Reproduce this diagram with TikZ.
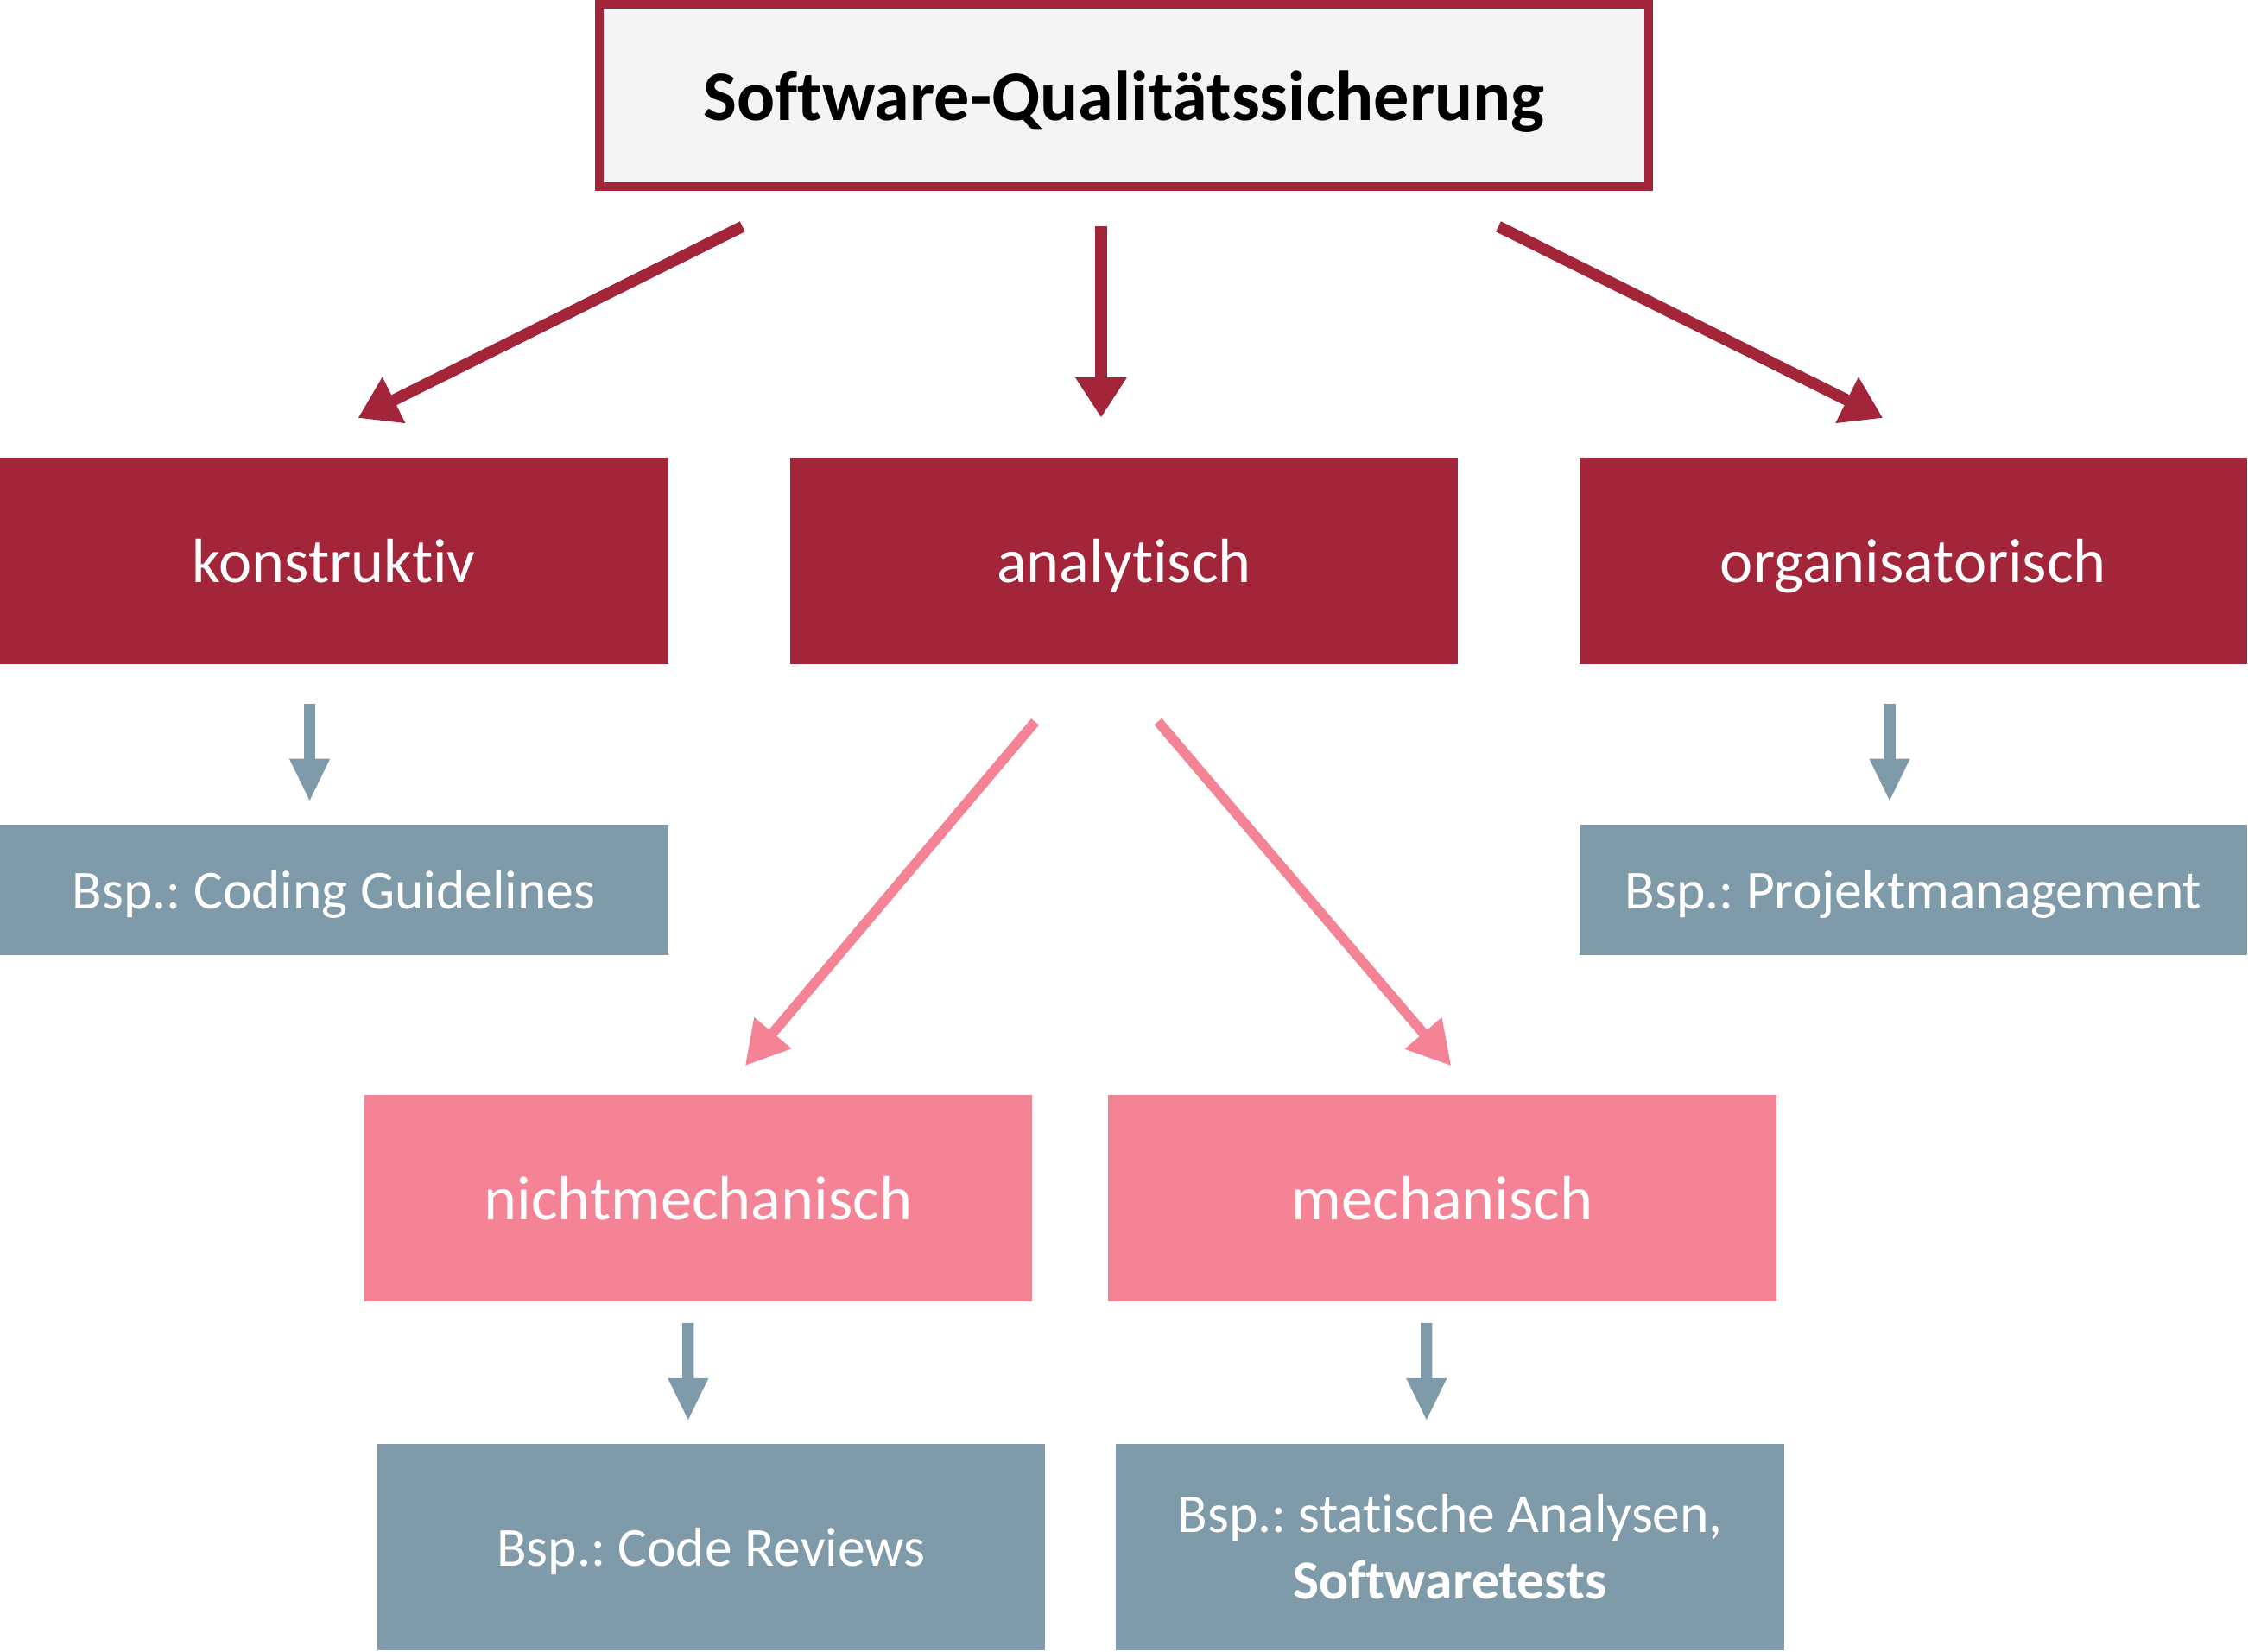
\documentclass[tikz,border=0pt]{standalone}
\usepackage{fontspec}
\setmainfont{Carlito}[Ligatures=NoCommon]
\usetikzlibrary{arrows.meta,calc}

\definecolor{qsred}{HTML}{A3253A}
\definecolor{qspink}{HTML}{F48396}
\definecolor{qsgrey}{HTML}{7F9AA8}
\definecolor{qslight}{HTML}{F4F4F4}

\frenchspacing

\begin{document}
\begin{tikzpicture}[
		redbox/.style={fill=qsred, text=white, minimum width=4.66cm, minimum height=1.44cm, inner sep=0pt, text depth=0pt, font=\fontsize{12.4}{15}\selectfont},
		pinkbox/.style={fill=qspink, text=white, minimum width=4.66cm, minimum height=1.44cm, inner sep=0pt, text depth=0pt, font=\fontsize{12.4}{15}\selectfont},
		greybox/.style={fill=qsgrey, text=white, minimum width=4.66cm, inner sep=0pt, align=center, font=\fontsize{10.9}{13.1}\selectfont},
		redarrow/.style={draw=qsred, line width=0.08cm, -{Triangle[width=0.34cm, length=0.28cm]}},
		pinkarrow/.style={draw=qspink, line width=0.07cm, -{Triangle[width=0.32cm, length=0.3cm]}},
		greyarrow/.style={draw=qsgrey, line width=0.08cm, -{Triangle[width=0.26cm, length=0.3cm]}}
	]
		\useasboundingbox (0,0) rectangle (15.68,-11.52);
		
		\node[draw=qsred, line width=0.06cm, fill=qslight, minimum width=7.32cm, minimum height=1.27cm, text depth=0pt, font=\fontsize{14.1}{17}\selectfont\bfseries] (QS) at (7.84,-0.665) {Software-Qualitätssicherung};
		
		\node[redbox] (konstruktiv) at (2.33,-3.91) {konstruktiv};
		\node[redbox] (analytisch) at (7.84,-3.91) {analytisch};
		\node[redbox] (organisatorisch) at (13.345,-3.91) {organisatorisch};
		
		\node[greybox, minimum height=0.91cm, text depth=0pt] (BspCoding) at (2.33,-6.205) {Bsp.: Coding Guidelines};
		\node[greybox, minimum height=0.91cm, text depth=0pt] (BspProjekt) at (13.345,-6.205) {Bsp.: Projektmanagement};
		
		\node[pinkbox] (nichtmech) at (4.87,-8.36) {nichtmechanisch};
		\node[pinkbox] (mech) at (10.06,-8.36) {mechanisch};
		
		\node[greybox, minimum height=1.44cm, text depth=0pt] (BspReviews) at (4.96,-10.79) {Bsp.: Code Reviews};
		\node[greybox, minimum height=1.44cm] (BspTests) at (10.115,-10.79) {Bsp.: statische Analysen,\\\textbf{Softwaretests}};
		
		\draw[redarrow, shorten <=0.56cm, shorten >=0.6cm] ([xshift=-2.16cm]QS.south) -- ([xshift=-0.37cm]konstruktiv.north);
		\draw[redarrow, shorten <=0.25cm, shorten >=0.27cm] ([xshift=-0.16cm]QS.south) -- ([xshift=-0.16cm]analytisch.north);
		\draw[redarrow, shorten <=0.56cm, shorten >=0.6cm] ([xshift=2.11cm]QS.south) -- ([xshift=0.325cm]organisatorisch.north);
		
		\draw[greyarrow, shorten <=0.27cm, shorten >=0.15cm] ([xshift=-0.17cm]konstruktiv.south) -- ([xshift=-0.17cm]BspCoding.north);
		\draw[greyarrow, shorten <=0.27cm, shorten >=0.15cm] ([xshift=-0.165cm]organisatorisch.south) -- ([xshift=-0.165cm]BspProjekt.north);
		
		\draw[pinkarrow, shorten <=0.52cm, shorten >=0.26cm] ([xshift=-0.285cm]analytisch.south) -- ([xshift=0.16cm]nichtmech.north);
		\draw[pinkarrow, shorten <=0.52cm, shorten >=0.26cm] ([xshift=-0.1cm]analytisch.south) -- ([xshift=0.23cm]mech.north);
		
		\draw[greyarrow, shorten <=0.14cm, shorten >=0.15cm] ([xshift=-0.07cm]nichtmech.south) -- ([xshift=-0.16cm]BspReviews.north);
		\draw[greyarrow, shorten <=0.14cm, shorten >=0.15cm] ([xshift=-0.11cm]mech.south) -- ([xshift=-0.165cm]BspTests.north);
		
	\end{tikzpicture}
\end{document}
